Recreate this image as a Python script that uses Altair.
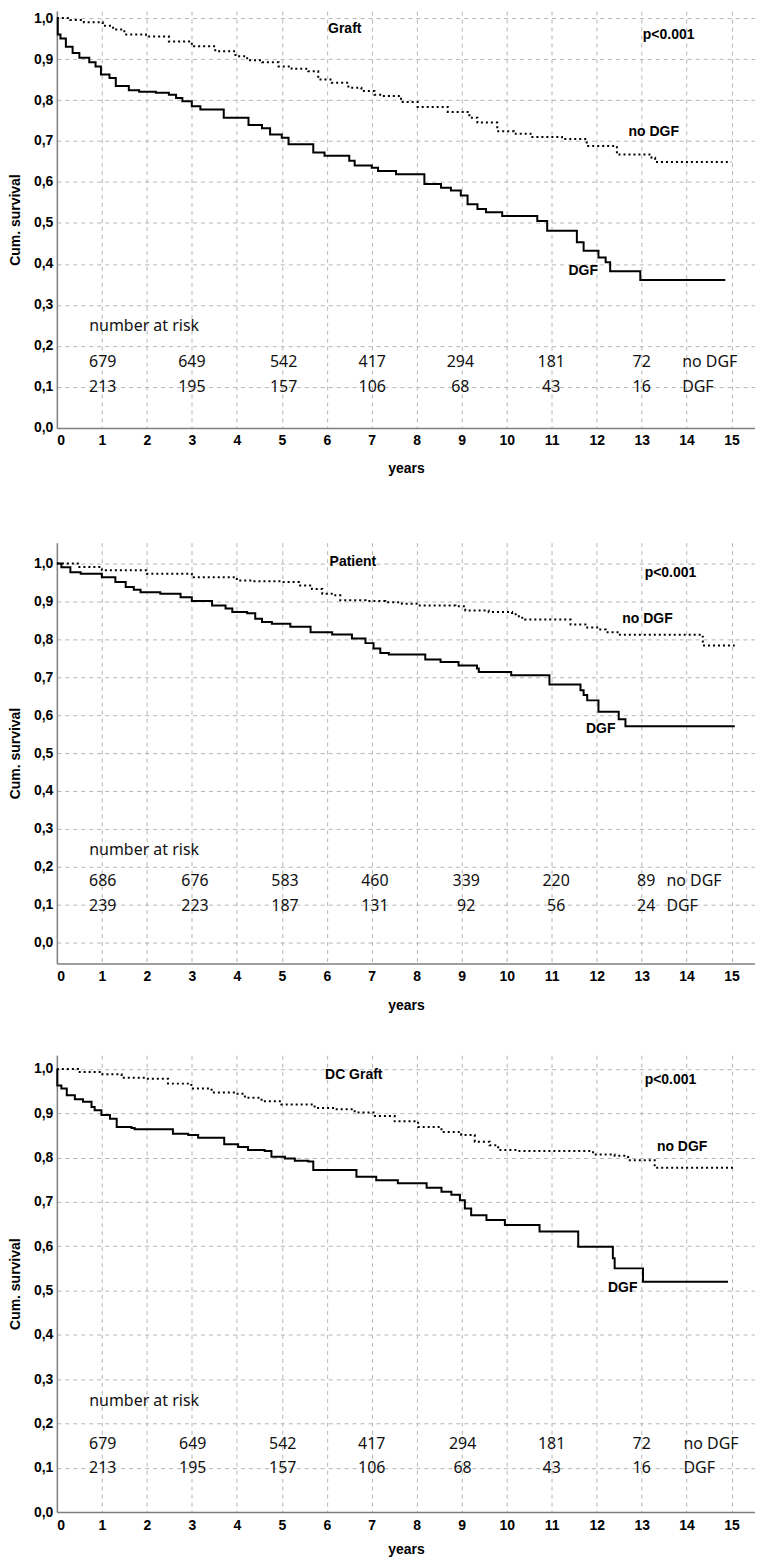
import altair as alt
import pandas as pd

# ---------------- data ----------------
x_ticks = list(range(16))
y_ticks = [round(i * 0.1, 1) for i in range(11)]

# Panel 1: Graft
graft_dgf_t = [0, 0.02, 0.08, 0.2, 0.35, 0.5, 0.72, 0.86, 0.98, 1.17, 1.31, 1.6, 1.83, 2.2, 2.49, 2.65, 2.79, 3.0, 3.19,
               3.71, 4.26, 4.56, 4.74, 5.0, 5.15, 5.7, 5.95, 6.5, 6.62, 7.0, 7.14, 7.54, 8.17, 8.54, 8.76, 8.98, 9.13,
               9.35, 9.54, 9.9, 10.68, 10.9, 11.56, 11.71, 12.04, 12.2, 12.3, 12.97, 14.86]
graft_dgf_s = [1.0, 0.96, 0.95, 0.93, 0.915, 0.903, 0.892, 0.882, 0.862, 0.854, 0.834, 0.824, 0.82, 0.818, 0.813, 0.805,
               0.797, 0.785, 0.777, 0.757, 0.739, 0.731, 0.716, 0.708, 0.692, 0.672, 0.664, 0.652, 0.64, 0.635, 0.627,
               0.619, 0.595, 0.586, 0.579, 0.567, 0.546, 0.534, 0.526, 0.517, 0.505, 0.481, 0.453, 0.432, 0.416, 0.404,
               0.382, 0.361, 0.361]
graft_nodgf_t = [0, 0.3, 0.6, 1.02, 1.25, 1.5, 1.98, 2.49, 3.0, 3.52, 3.97, 4.23, 4.56, 4.93, 5.22, 5.59, 5.81, 6.11,
                 6.48, 6.77, 7.06, 7.21, 7.65, 8.02, 8.69, 9.17, 9.35, 9.79, 10.16, 10.53, 11.23, 11.78, 12.45, 13.22,
                 13.3, 14.99]
graft_nodgf_s = [1.0, 0.995, 0.99, 0.981, 0.972, 0.96, 0.955, 0.943, 0.931, 0.919, 0.907, 0.897, 0.892, 0.882, 0.876,
                 0.87, 0.85, 0.842, 0.83, 0.822, 0.813, 0.81, 0.795, 0.783, 0.771, 0.757, 0.745, 0.724, 0.718, 0.71,
                 0.705, 0.688, 0.667, 0.659, 0.649, 0.649]

# Panel 2: Patient
patient_dgf_t = [0, 0.1, 0.3, 0.53, 1.0, 1.3, 1.53, 1.71, 1.86, 2.3, 2.75, 3.0, 3.45, 3.75, 3.9, 4.23, 4.41, 4.56, 4.78,
                 5.19, 5.64, 6.12, 6.56, 6.86, 7.04, 7.19, 7.38, 8.19, 8.53, 8.93, 9.34, 9.38, 10.1, 10.95, 11.64,
                 11.71, 11.79, 12.04, 12.49, 12.64, 15.07]
patient_dgf_s = [1.0, 0.99, 0.977, 0.973, 0.964, 0.951, 0.938, 0.931, 0.924, 0.92, 0.911, 0.901, 0.889, 0.881, 0.872,
                 0.869, 0.854, 0.846, 0.841, 0.833, 0.819, 0.813, 0.802, 0.79, 0.776, 0.764, 0.76, 0.747, 0.74, 0.731,
                 0.723, 0.714, 0.705, 0.681, 0.666, 0.653, 0.639, 0.609, 0.589, 0.571, 0.571]
patient_nodgf_t = [0, 0.5, 1.0, 2.0, 3.0, 4.0, 4.34, 5.0, 5.38, 5.67, 5.9, 6.19, 6.3, 6.86, 7.3, 7.67, 8.0, 8.86, 9.08,
                   9.6, 10.12, 10.27, 10.41, 11.42, 11.75, 12.04, 12.2, 12.49, 14.36, 15.07]
patient_nodgf_s = [1.0, 0.991, 0.982, 0.973, 0.964, 0.955, 0.953, 0.951, 0.942, 0.933, 0.92, 0.916, 0.903, 0.901,
                   0.898, 0.894, 0.889, 0.887, 0.876, 0.872, 0.866, 0.857, 0.852, 0.839, 0.831, 0.826, 0.819, 0.812,
                   0.784, 0.784]

# Panel 3: DC Graft
dc_dgf_t = [0, 0.01, 0.1, 0.22, 0.4, 0.58, 0.77, 0.84, 0.99, 1.18, 1.33, 1.66, 1.73, 2.58, 2.92, 3.14, 3.72, 4.03,
            4.25, 4.62, 4.77, 5.07, 5.29, 5.59, 5.7, 6.66, 7.1, 7.58, 8.22, 8.55, 8.77, 8.96, 9.07, 9.21, 9.55, 9.96,
            10.73, 11.59, 12.36, 12.4, 13.03, 14.92]
dc_dgf_s = [1.0, 0.963, 0.956, 0.941, 0.932, 0.926, 0.914, 0.907, 0.896, 0.888, 0.869, 0.867, 0.864, 0.854, 0.851,
            0.845, 0.83, 0.824, 0.817, 0.815, 0.802, 0.798, 0.793, 0.791, 0.772, 0.757, 0.749, 0.742, 0.732, 0.723,
            0.716, 0.704, 0.685, 0.67, 0.659, 0.648, 0.633, 0.599, 0.573, 0.55, 0.52, 0.52]
dc_nodgf_t = [0, 0.47, 0.99, 1.44, 1.99, 2.47, 2.99, 3.44, 3.96, 4.18, 4.55, 4.99, 5.73, 6.18, 6.62, 7.07, 7.51, 8.03,
              8.55, 8.99, 9.29, 9.62, 9.81, 10.25, 11.92, 12.4, 12.7, 13.29, 15.05]
dc_nodgf_s = [1.0, 0.993, 0.988, 0.98, 0.978, 0.967, 0.956, 0.947, 0.944, 0.935, 0.927, 0.92, 0.912, 0.909, 0.902,
              0.894, 0.882, 0.869, 0.858, 0.851, 0.836, 0.828, 0.817, 0.815, 0.807, 0.804, 0.794, 0.777, 0.777]

# number at risk
risk_row_labels = ["no DGF", "DGF"]
graft_risk_nodgf = [679, 649, 542, 417, 294, 181, 72]
graft_risk_dgf = [213, 195, 157, 106, 68, 43, 16]
patient_risk_nodgf = [686, 676, 583, 460, 339, 220, 89]
patient_risk_dgf = [239, 223, 187, 131, 92, 56, 24]
dc_risk_nodgf = [679, 649, 542, 417, 294, 181, 72]
dc_risk_dgf = [213, 195, 157, 106, 68, 43, 16]
graft_risk_x = [1.02, 3.0, 5.04, 7.01, 8.97, 10.99, 13.0]
patient_risk_x = [1.02, 3.07, 5.07, 7.07, 9.1, 11.1, 13.1]
dc_risk_x = [1.02, 3.02, 5.02, 7.0, 9.02, 11.0, 13.0]

# annotation texts
panel_titles = ["Graft", "Patient", "DC Graft"]
p_text = "p<0.001"

# ---------------- helpers ----------------
XMAX = 15.52


def panel(title, title_pos, p_pos, nodgf_pos, dgf_pos,
          dgf_t, dgf_s, nodgf_t, nodgf_s,
          risk_x, risk_nodgf, risk_dgf, risk_rows_y, label_x,
          ydom, height, years_pad):
    xenc = alt.X("x:Q", scale=alt.Scale(domain=[0, XMAX], nice=False, zero=False),
                 axis=alt.Axis(values=x_ticks, format="d", title="years", ticks=False, tickSize=0,
                               labelPadding=6, titlePadding=years_pad, grid=True))
    yenc = alt.Y("y:Q", scale=alt.Scale(domain=ydom, nice=False, zero=False),
                 axis=alt.Axis(values=y_ticks, title="Cum. survival", ticks=False, tickSize=0,
                               labelPadding=4, titlePadding=11, grid=True,
                               labelExpr="replace(format(datum.value, '.1f'), '.', ',')"))

    dgf_df = pd.DataFrame({"x": dgf_t, "y": dgf_s})
    nodgf_df = pd.DataFrame({"x": nodgf_t, "y": nodgf_s})
    l_dgf = alt.Chart(dgf_df).mark_line(interpolate="step-after", color="black",
                                        strokeWidth=2).encode(x=xenc, y=yenc)
    l_nodgf = alt.Chart(nodgf_df).mark_line(interpolate="step-after", color="black", strokeWidth=2,
                                            strokeDash=[2, 3]).encode(x=xenc, y=yenc)

    ann_df = pd.DataFrame({
        "x": [title_pos[0], p_pos[0], nodgf_pos[0], dgf_pos[0]],
        "y": [title_pos[1], p_pos[1], nodgf_pos[1], dgf_pos[1]],
        "label": [title, p_text, "no DGF", "DGF"],
    })
    ann = alt.Chart(ann_df).mark_text(font="Liberation Sans", fontWeight="bold", fontSize=14,
                                      color="black", align="center", baseline="middle").encode(
        x=xenc, y=yenc, text="label:N")

    rows = []
    for xv, v in zip(risk_x, risk_nodgf):
        rows.append({"x": xv, "y": risk_rows_y[1], "label": str(v)})
    for xv, v in zip(risk_x, risk_dgf):
        rows.append({"x": xv, "y": risk_rows_y[2], "label": str(v)})
    num_df = pd.DataFrame(rows)
    nums = alt.Chart(num_df).mark_text(font="Noto Sans", fontSize=16, color="#111",
                                       align="center", baseline="middle").encode(
        x=xenc, y=yenc, text="label:N")

    lab_df = pd.DataFrame({
        "x": [0.72, label_x, label_x],
        "y": [risk_rows_y[0], risk_rows_y[1], risk_rows_y[2]],
        "label": ["number at risk"] + risk_row_labels,
    })
    labs = alt.Chart(lab_df).mark_text(font="Noto Sans", fontSize=16, color="#111",
                                       align="left", baseline="middle").encode(
        x=xenc, y=yenc, text="label:N")

    return alt.layer(l_nodgf, l_dgf, ann, nums, labs).properties(width=700, height=height)


p1 = panel("Graft", (6.4, 0.973), (13.6, 0.959), (13.27, 0.723), (11.7, 0.383),
           graft_dgf_t, graft_dgf_s, graft_nodgf_t, graft_nodgf_s,
           graft_risk_x, graft_risk_nodgf, graft_risk_dgf, (0.248, 0.16, 0.1), 13.9,
           [0, 1.017], 418, 14)
p2 = panel("Patient", (6.58, 1.003), (13.64, 0.976), (13.13, 0.853), (12.09, 0.563),
           patient_dgf_t, patient_dgf_s, patient_nodgf_t, patient_nodgf_s,
           patient_risk_x, patient_risk_nodgf, patient_risk_dgf, (0.245, 0.163, 0.097), 13.55,
           [-0.055, 1.055], 422, 15)
p3 = panel("DC Graft", (6.6, 0.986), (13.64, 0.975), (13.9, 0.824), (12.58, 0.505),
           dc_dgf_t, dc_dgf_s, dc_nodgf_t, dc_nodgf_s,
           dc_risk_x, dc_risk_nodgf, dc_risk_dgf, (0.25, 0.153, 0.099), 13.93,
           [0, 1.031], 458, 11)

chart = alt.vconcat(p1, alt.vconcat(p2, p3, spacing=43), spacing=67).properties(
    padding=0, background="white"
).configure_view(stroke=None).configure_axis(
    domainColor="#808080", domainWidth=1.5,
    gridColor="#b5b5b5", gridDash=[4, 4], gridWidth=1,
    labelFont="Liberation Sans", labelFontWeight="bold", labelFontSize=14, labelColor="black",
    titleFont="Liberation Sans", titleFontWeight="bold", titleFontSize=14, titleColor="black",
)

chart.save("out.html", embed_options={"renderer": "svg", "actions": False})
